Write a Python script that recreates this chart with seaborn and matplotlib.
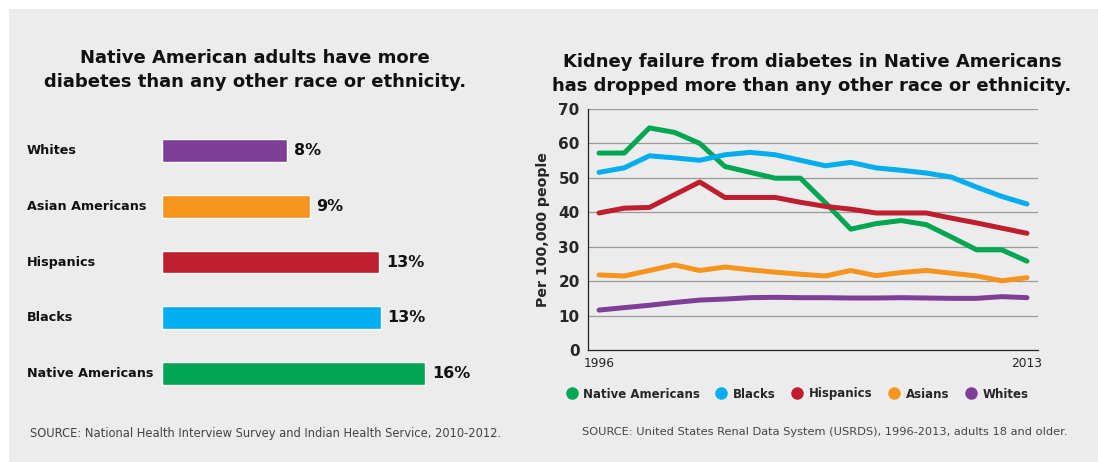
import numpy as np
import pandas as pd
import matplotlib
matplotlib.use("Agg")
import matplotlib.pyplot as plt
from matplotlib.lines import Line2D
import seaborn as sns

# ------------------------------------------------------------
# Data
# ------------------------------------------------------------
bar_groups = ["Whites", "Asian Americans", "Hispanics", "Blacks", "Native Americans"]
bar_values = [7.6, 9.0, 13.2, 13.3, 16.0]

years = list(range(1996, 2014))
native = [57.2, 57.2, 64.5, 63.2, 60.0, 53.3, 51.6, 49.9, 49.9, 42.7,
          35.1, 36.7, 37.6, 36.4, 32.8, 29.1, 29.1, 25.8]
blacks = [51.6, 52.9, 56.4, 55.8, 55.1, 56.7, 57.4, 56.7, 55.1, 53.5,
          54.5, 52.9, 52.2, 51.4, 50.2, 47.3, 44.6, 42.4]
hispanics = [39.8, 41.2, 41.4, 45.1, 48.8, 44.3, 44.3, 44.3, 42.9, 41.7,
             40.9, 39.8, 39.8, 39.8, 38.3, 36.9, 35.4, 33.9]
asians = [21.8, 21.5, 23.1, 24.7, 23.1, 24.1, 23.3, 22.6, 22.0, 21.5,
          23.1, 21.6, 22.5, 23.1, 22.3, 21.5, 20.1, 21.0]
whites = [11.6, 12.3, 13.0, 13.8, 14.5, 14.8, 15.2, 15.3, 15.2, 15.2,
          15.1, 15.1, 15.2, 15.1, 15.0, 15.0, 15.5, 15.2]

line_groups = ["Native Americans", "Blacks", "Hispanics", "Asians", "Whites"]

# colours
GREEN = "#00a651"
BLUE = "#00aeef"
RED = "#be1e2d"
ORANGE = "#f7941d"
PURPLE = "#7f3f98"
BG = "#ececec"

bar_colors = [PURPLE, ORANGE, RED, BLUE, GREEN]
line_colors = [GREEN, BLUE, RED, ORANGE, PURPLE]

# ------------------------------------------------------------
# Setup
# ------------------------------------------------------------
sns.set_style("white")
plt.rcParams["font.family"] = ["DejaVu Sans"]

fig = plt.figure(figsize=(10.98, 4.62), dpi=100)
fig.patch.set_facecolor("white")
# grey panel
fig.patches.append(plt.Rectangle((9 / 1098, 0), 1 - 9 / 1098, 1 - 9 / 462,
                                 transform=fig.transFigure, facecolor=BG,
                                 edgecolor="none", zorder=-10))

# ------------------------------------------------------------
# Left: bar chart
# ------------------------------------------------------------
ax1 = fig.add_axes([0.1475, 0.132, 0.2997, 0.6017])
bar_df = pd.DataFrame({"group": bar_groups, "pct": bar_values})
sns.barplot(data=bar_df, y="group", x="pct", hue="group", palette=bar_colors,
            legend=False, width=0.41, orient="h", ax=ax1, saturation=1)
ax1.set_xlim(0, 20)
ax1.set_ylim(4.5, -0.5)
ax1.set_facecolor("none")
for s in ax1.spines.values():
    s.set_visible(False)
ax1.set_xticks([])
ax1.set_yticks([])
ax1.set_xlabel("")
ax1.set_ylabel("")
for i, (g, v) in enumerate(zip(bar_groups, bar_values)):
    ax1.text(v + 0.4, i, f"{v:.0f}%", va="center", ha="left",
             fontsize=11.5, fontweight="bold", color="#111111")
    ax1.annotate(g, xy=(27 / 1098, i), xycoords=("figure fraction", "data"),
                 va="center", ha="left", fontsize=9.2, fontweight="bold",
                 color="#111111")

fig.text(255 / 1098, 1 - 70 / 462,
         "Native American adults have more\ndiabetes than any other race or ethnicity.",
         ha="center", va="center", fontsize=13, fontweight="bold",
         color="#111111", linespacing=1.45)
fig.text(30 / 1098, 1 - 433 / 462,
         "SOURCE: National Health Interview Survey and Indian Health Service, 2010-2012.",
         ha="left", va="center", fontsize=8.3, color="#444444")

# ------------------------------------------------------------
# Right: line chart
# ------------------------------------------------------------
ax2 = fig.add_axes([0.5355, 0.2424, 0.4099, 0.5217])
rows = []
for name, vals in zip(line_groups, [native, blacks, hispanics, asians, whites]):
    for y, v in zip(years, vals):
        rows.append({"year": y, "rate": v, "group": name})
line_df = pd.DataFrame(rows)
sns.lineplot(data=line_df, x="year", y="rate", hue="group",
             hue_order=line_groups, palette=line_colors, linewidth=3.6,
             legend=False, ax=ax2)
ax2.set_facecolor("none")
ax2.set_xlim(1995.56, 2013.44)
ax2.set_ylim(0, 70)
ax2.set_yticks(range(0, 80, 10))
for yv in range(10, 80, 10):
    ax2.axhline(yv, color="#9a9a9a", lw=0.9, zorder=0)
ax2.set_xticks([1996, 2013])
ax2.tick_params(axis="x", length=0, labelsize=8.8, pad=5, colors="#222222")
ax2.tick_params(axis="y", length=0, labelsize=11, pad=6)
for lab in ax2.get_yticklabels():
    lab.set_fontweight("bold")
ax2.spines["top"].set_visible(False)
ax2.spines["right"].set_visible(False)
ax2.spines["left"].set_color("#222222")
ax2.spines["bottom"].set_color("#222222")
ax2.spines["left"].set_linewidth(0.9)
ax2.spines["bottom"].set_linewidth(0.9)
ax2.set_xlabel("")
ax2.set_ylabel("Per 100,000 people", fontsize=10.2, fontweight="bold", labelpad=6)

fig.text(812 / 1098, 1 - 74 / 462,
         "Kidney failure from diabetes in Native Americans\nhas dropped more than any other race or ethnicity.",
         ha="center", va="center", fontsize=13, fontweight="bold",
         color="#111111", linespacing=1.45)

handles = [Line2D([0], [0], marker="o", color="none", markerfacecolor=c,
                  markeredgecolor="none", markersize=9) for c in line_colors]
leg = fig.legend(handles, line_groups, loc="center", ncol=5,
                 bbox_to_anchor=(797 / 1098, 1 - 394 / 462), frameon=False,
                 handletextpad=0.5, columnspacing=1.3, handlelength=1.0,
                 prop={"weight": "bold", "size": 8.5})

fig.text(582 / 1098, 1 - 432 / 462,
         "SOURCE: United States Renal Data System (USRDS), 1996-2013, adults 18 and older.",
         ha="left", va="center", fontsize=8.2, color="#444444")

fig.savefig("out.png", dpi=100, facecolor=fig.get_facecolor())
